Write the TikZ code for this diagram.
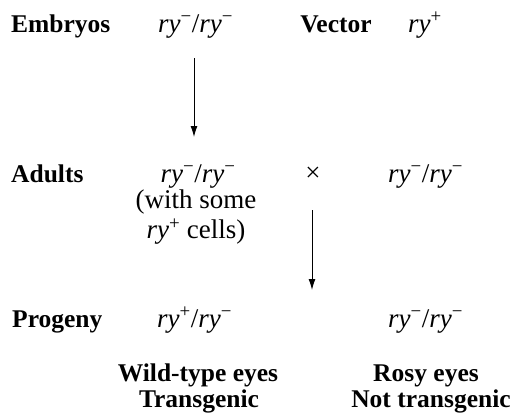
\documentclass[tikz,border=0pt]{standalone}
\usetikzlibrary{arrows.meta}
\usepackage{fontspec}
\setmainfont{Liberation Serif}
\newcommand\rym{\textit{ry}\textsuperscript{−}}
\newcommand\ryp{\textit{ry}\textsuperscript{+}}
\begin{document}
\begin{tikzpicture}[x=1pt,y=-1pt,
  txt/.style={inner sep=0pt, font=\fontsize{27}{30}\selectfont},
  lbl/.style={inner sep=0pt, font=\fontsize{25.5}{28}\selectfont\bfseries},
  arr/.style={-{Latex[length=11pt,width=7pt]}, line width=1pt}]
\useasboundingbox (0,0) rectangle (511,418);
\node[lbl, anchor=base west] (emb) at (11,32) {Embryos};
\node[txt, anchor=base west] (embg) at (158,32) {\rym/\rym};
\node[lbl, anchor=base] (vec) at (336,32) {Vector};
\node[txt, anchor=base west] (vecg) at (408,32) {\ryp};
\node[lbl, anchor=base west] (adl) at (11,182) {Adults};
\node[txt, anchor=base] (adg) at (198,182) {\rym/\rym};
\node[txt, anchor=north, align=center] (adw) at (196,190) {(with some\\\ryp\ cells)};
\node[txt] (x) at (313,174) {×};
\node[txt, anchor=base west] (adr) at (388,182) {\rym/\rym};
\node[lbl, anchor=base west] (pro) at (12,327) {Progeny};
\node[txt, anchor=base west] (prl) at (157,327) {\ryp/\rym};
\node[txt, anchor=base west] (prr) at (388,327) {\rym/\rym};
\node[lbl, anchor=base] (wt) at (198,381) {Wild-type eyes};
\node[lbl, anchor=base] (tg) at (199,407) {Transgenic};
\node[lbl, anchor=base] (ro) at (426,381) {Rosy eyes};
\node[lbl, anchor=base] (nt) at (431,407) {Not transgenic};
\coordinate (a1s) at (194,58);
\coordinate (a1e) at (194,137);
\coordinate (a2s) at (312,210);
\coordinate (a2e) at (312,290);
\draw[arr] (a1s) -- (a1e);
\draw[arr] (a2s) -- (a2e);
\end{tikzpicture}
\end{document}
